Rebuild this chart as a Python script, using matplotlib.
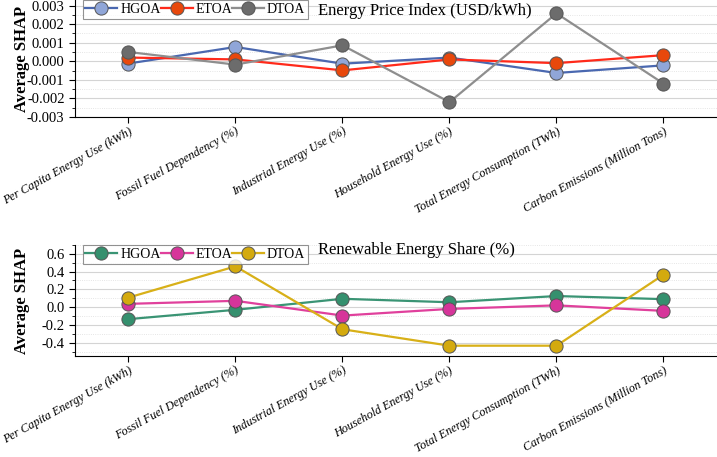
import matplotlib
matplotlib.use("Agg")
import matplotlib.pyplot as plt
from matplotlib.ticker import MultipleLocator, FormatStrFormatter

plt.rcParams['font.family'] = ['Liberation Serif', 'DejaVu Serif']
plt.rcParams['axes.unicode_minus'] = True

features = ["Per Capita Energy Use (kWh)", "Fossil Fuel Dependency (%)",
            "Industrial Energy Use (%)", "Household Energy Use (%)",
            "Total Energy Consumption (TWh)", "Carbon Emissions (Million Tons)"]
methods = ["HGOA", "ETOA", "DTOA"]

# Energy Price Index (USD/kWh)
price_hgoa = [-0.00012, 0.00077, -0.00013, 0.0002, -0.00063, -0.00022]
price_etoa = [0.0002, 0.0001, -0.00049, 0.0001, -0.0001, 0.00033]
price_dtoa = [0.0005, -0.00018, 0.00086, -0.0022, 0.00258, -0.0012]

# Renewable Energy Share (%)
renew_hgoa = [-0.135, -0.03, 0.094, 0.055, 0.125, 0.09]
renew_etoa = [0.037, 0.071, -0.095, -0.02, 0.02, -0.042]
renew_dtoa = [0.108, 0.459, -0.249, -0.434, -0.434, 0.365]

panels = [
    dict(title="Energy Price Index (USD/kWh)", series=[price_hgoa, price_etoa, price_dtoa],
         lines=["#4a68b0", "#ff2a1a", "#8e8e8e"], faces=["#90a6d8", "#e8480c", "#6c6c6c"],
         ylim=(-0.003, 0.0033), major=0.001, fmt="%.3f", ty=0.905),
    dict(title="Renewable Energy Share (%)", series=[renew_hgoa, renew_etoa, renew_dtoa],
         lines=["#3a9474", "#e0409c", "#d8b018"], faces=["#35906e", "#d6359a", "#d4aa0e"],
         ylim=(-0.55, 0.70), major=0.2, fmt="%.1f", ty=0.955),
]

fig = plt.figure(figsize=(7.17, 4.57), dpi=100)
ax_rects = [[0.1046, 0.744, 0.8954, 0.256], [0.1046, 0.221, 0.8954, 0.243]]

x = list(range(len(features)))
for rect, p in zip(ax_rects, panels):
    ax = fig.add_axes(rect)
    for name, vals, lc, fc in zip(methods, p["series"], p["lines"], p["faces"]):
        ax.plot(x, vals, color=lc, linewidth=1.6, marker='o', markersize=9.5,
                markerfacecolor=fc, markeredgecolor='#555555', markeredgewidth=0.7,
                label=name)
    ax.set_xlim(-0.5, 5.5)
    ax.set_ylim(*p["ylim"])
    ax.yaxis.set_major_locator(MultipleLocator(p["major"]))
    ax.yaxis.set_minor_locator(MultipleLocator(p["major"] / 2))
    ax.yaxis.set_major_formatter(FormatStrFormatter(p["fmt"]))
    ax.grid(axis='y', which='major', color='#d4d4d4', linewidth=0.8)
    ax.grid(axis='y', which='minor', color='#dddddd', linewidth=0.6, linestyle=':')
    ax.set_axisbelow(True)
    ax.spines['top'].set_visible(False)
    ax.spines['right'].set_visible(False)
    ax.tick_params(axis='y', labelsize=10.5, direction='out', length=4)
    ax.tick_params(axis='y', which='minor', length=2)
    ax.tick_params(axis='x', direction='out', length=4, pad=2)
    ax.set_xticks(x)
    ax.set_xticklabels(features, rotation=29, ha='right', rotation_mode='anchor',
                       fontsize=8.7, fontstyle='italic')
    ax.set_ylabel("Average SHAP", fontsize=12, fontweight='bold')
    ax.yaxis.set_label_coords(-0.07, 0.5)
    leg = ax.legend(loc='upper left', bbox_to_anchor=(0.012, 1.0), ncol=3, fontsize=10,
                    frameon=True, fancybox=False, edgecolor='#777777', borderaxespad=0,
                    handlelength=2.3, handletextpad=0.2, columnspacing=0.0,
                    borderpad=0.2)
    leg.get_frame().set_linewidth(0.8)
    ax.text(0.378, p["ty"], p["title"], transform=ax.transAxes, fontsize=12,
            ha='left', va='center')

fig.savefig("out.png", dpi=100)
